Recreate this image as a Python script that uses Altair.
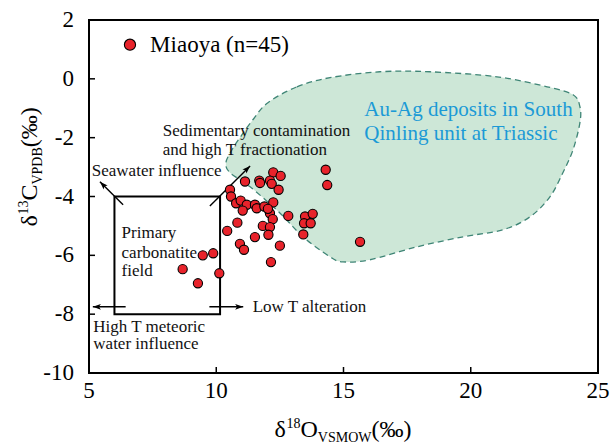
import altair as alt
import pandas as pd

FONT = "Liberation Serif"

# ---- data ----
d18O = [14.30, 14.36, 12.24, 12.53, 11.13, 11.69, 11.72, 12.11, 12.18, 12.45,
        10.54, 10.58, 10.78, 10.96, 11.20, 11.04, 11.52, 11.59, 11.89, 12.24,
        12.11, 12.22, 12.83, 13.49, 13.79, 13.45, 13.71, 13.42, 15.65, 10.83,
        10.43, 11.83, 12.11, 12.05, 11.52, 12.50, 10.93, 11.09, 9.88, 9.47,
        8.68, 10.12, 12.15, 9.28, 12.03]
d13C = [-3.09, -3.61, -3.18, -3.30, -3.49, -3.46, -3.54, -3.46, -3.57, -3.77,
        -3.77, -4.00, -4.23, -4.14, -4.28, -4.48, -4.28, -4.40, -4.34, -4.20,
        -4.57, -4.77, -4.66, -4.68, -4.59, -4.91, -4.91, -5.29, -5.54, -4.89,
        -5.17, -5.00, -5.04, -5.30, -5.38, -5.67, -5.61, -5.81, -5.93, -6.00,
        -6.47, -6.61, -6.23, -6.95, -4.42]

# Au-Ag deposits field outline
poly_x = [12.03, 13.17, 14.47, 16.43, 18.40, 21.03, 23.00, 24.02, 24.29, 24.29,
          24.02, 23.62, 23.11, 22.33, 21.27, 19.70, 17.89, 16.04, 14.98, 14.47,
          13.41, 12.50, 11.33, 10.54, 10.38, 10.62, 10.93, 11.44]
poly_y = [-0.81, -0.27, 0.04, 0.24, 0.24, 0.07, -0.27, -0.54, -0.95, -1.49,
          -2.41, -3.19, -4.01, -4.69, -5.13, -5.37, -5.71, -6.15, -6.22, -6.05,
          -5.37, -4.56, -3.67, -3.19, -2.85, -2.41, -2.00, -1.39]

# primary carbonatite field box
box_x = [6.0, 10.15]
box_y = [-8.0, -4.0]

# arrows (start -> end)
arrow_x1 = [6.34, 9.75, 6.44, 9.73]
arrow_y1 = [-4.28, -4.32, -7.75, -7.75]
arrow_x2 = [5.43, 11.33, 5.15, 11.06]
arrow_y2 = [-3.50, -2.96, -7.75, -7.75]
arrow_dir = [315, 45, 270, 90]

# annotations
ann_text = ["Sedimentary contamination", "and high T fractionation",
            "Seawater influence", "Primary", "carbonatite", "field",
            "Low  T alteration", "High  T meteoric", "water influence"]
ann_x = [7.90, 7.90, 5.11, 6.28, 6.28, 6.28, 11.43, 5.17, 5.17]
ann_y = [-1.79, -2.41, -3.12, -5.24, -5.91, -6.52, -7.75, -8.43, -9.03]

field_text = ["Au-Ag deposits in South", "Qinling unit at Triassic"]
field_x = [15.82, 15.82]
field_y = [-1.07, -1.88]

legend_label = ["Miaoya (n=45)"]
legend_x = [6.61]
legend_tx = [7.40]
legend_y = [1.16]

x_ticks = [5, 10, 15, 20, 25]
x_tick_labels = ["5", "10", "15", "20", "25"]
y_ticks = [-10, -8, -6, -4, -2, 0, 2]
y_tick_labels = ["-10", "-8", "-6", "-4", "-2", "0", "2"]

W, H = 509, 353

xs = alt.Scale(domain=[5, 25], nice=False, zero=False)
ys = alt.Scale(domain=[-10, 2], nice=False, zero=False)

pts = pd.DataFrame({"x": d18O, "y": d13C})
poly = pd.DataFrame({"x": poly_x, "y": poly_y, "i": list(range(len(poly_x)))})
box = pd.DataFrame({"x": [box_x[0]], "x2": [box_x[1]], "y": [box_y[0]], "y2": [box_y[1]]})
arr = pd.DataFrame({"x": arrow_x1, "y": arrow_y1, "x2": arrow_x2, "y2": arrow_y2, "a": arrow_dir})
ann = pd.DataFrame({"t": ann_text, "x": ann_x, "y": ann_y})
fld = pd.DataFrame({"t": field_text, "x": field_x, "y": field_y})
leg = pd.DataFrame({"t": legend_label, "x": legend_x, "tx": legend_tx, "y": legend_y})
xt = pd.DataFrame({"v": x_ticks, "l": x_tick_labels})
yt = pd.DataFrame({"v": y_ticks, "l": y_tick_labels})
one = pd.DataFrame({"k": [0]})

X = lambda f="x": alt.X(f"{f}:Q", scale=xs, axis=None)
Y = lambda f="y": alt.Y(f"{f}:Q", scale=ys, axis=None)

# tick labels
xlab = alt.Chart(xt).mark_text(font=FONT, fontSize=23, color="black", baseline="top",
                               align="center", dy=7).encode(
    x=X("v"), y=alt.value(H), text="l:N")
ylab = alt.Chart(yt).mark_text(font=FONT, fontSize=23, color="black", baseline="middle",
                               align="right").encode(
    y=Y("v"), x=alt.value(-15), text="l:N")

# inward ticks
xtick = alt.Chart(xt).mark_rule(color="black", strokeWidth=1.5).encode(
    x=X("v"), y=alt.value(H), y2=alt.value(H - 6))
ytick = alt.Chart(yt).mark_rule(color="black", strokeWidth=1.5).encode(
    y=Y("v"), x=alt.value(0), x2=alt.value(6))

field = alt.Chart(poly).mark_line(
    fill="#cde7d7", stroke="#3f8576", strokeWidth=1.3, strokeDash=[6, 4],
    interpolate="cardinal-closed").encode(x=X(), y=Y(), order="i:Q")

rect = alt.Chart(box).mark_rect(fill=None, stroke="black", strokeWidth=2, filled=False).encode(
    x=X(), x2="x2:Q", y=Y(), y2="y2:Q")

shafts = alt.Chart(arr).mark_rule(color="black", strokeWidth=1.4).encode(
    x=X(), y=Y(), x2="x2:Q", y2="y2:Q")
heads = alt.Chart(arr).mark_point(
    shape="M0,0L0.6,1.7L0,1.3L-0.6,1.7Z", filled=True, color="black", size=90, opacity=1).encode(
    x=X("x2"), y=Y("y2"), angle=alt.Angle("a:Q", scale=None))

points = alt.Chart(pts).mark_circle(
    size=85, color="#e8232b", stroke="black", strokeWidth=1.1, opacity=1).encode(x=X(), y=Y())

labels = alt.Chart(ann).mark_text(
    font=FONT, fontSize=17, color="#111", align="left", baseline="middle").encode(
    x=X(), y=Y(), text="t:N")

flabels = alt.Chart(fld).mark_text(
    font=FONT, fontSize=21, color="#1b9ad6", align="left", baseline="middle").encode(
    x=X(), y=Y(), text="t:N")

legm = alt.Chart(leg).mark_circle(
    size=125, color="#e8232b", stroke="black", strokeWidth=1.1, opacity=1).encode(x=X(), y=Y())
legt = alt.Chart(leg).mark_text(
    font=FONT, fontSize=23, color="black", align="left", baseline="middle").encode(
    x=X("tx"), y=Y(), text="t:N")


def piece(text, x, y, size, angle=0):
    return alt.Chart(one).mark_text(
        text=text, x=x, y=y, fontSize=size, angle=angle, font=FONT, color="black",
        align="left", baseline="alphabetic")


xtitle = [
    piece("δ", 185.5, 417, 24),
    piece("18", 197.5, 408, 14),
    piece("O", 211.5, 417, 24),
    piece("VSMOW", 228.8, 422, 14),
    piece("(‰)", 282.5, 417, 24),
]
ytitle = [
    piece("δ", -52, 206.6, 24, 270),
    piece("13", -61, 194.6, 14, 270),
    piece("C", -52, 180.6, 24, 270),
    piece("VPDB", -47, 164.6, 14, 270),
    piece("(‰)", -52, 127.3, 24, 270),
]

chart = alt.layer(
    field, rect, shafts, heads, points, labels, flabels, legm, legt,
    xtick, ytick, xlab, ylab, *xtitle, *ytitle
).properties(
    width=W, height=H,
    autosize=alt.AutoSizeParams(type="none"),
    padding={"left": 89, "top": 20, "right": 14, "bottom": 71},
).configure(background="white").configure_view(stroke="black", strokeWidth=2)

chart.save("out.html", embed_options={"renderer": "svg", "actions": False})
